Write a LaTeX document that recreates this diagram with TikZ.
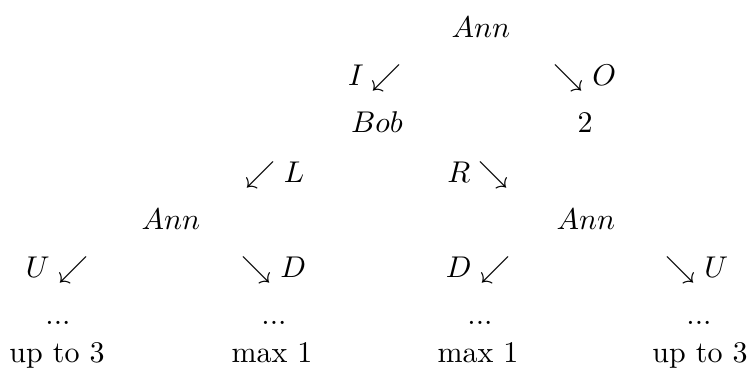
\documentclass[tikz,border=0pt]{standalone}
\usepackage{amsmath}
\begin{document}
\begin{tikzpicture}[x=0.3333pt,y=-0.3333pt,
  lbl/.style={anchor=base,inner sep=0pt,font=\fontsize{10}{12}\selectfont}]
\useasboundingbox (0,0) rectangle (749,377);
% row 1
\node[lbl] (ann1) at (481,38) {$Ann$};
% row 2
\node[lbl] (aI) at (375,86) {$I\swarrow$};
\node[lbl] (aO) at (585,86) {$\searrow O$};
% row 3
\node[lbl] (bob) at (377,133) {$Bob$};
\node[lbl] (two) at (585,133) {$2$};
% row 4
\node[lbl] (aL) at (275,183) {$\swarrow L$};
\node[lbl] (aR) at (478,183) {$R\searrow$};
% row 5
\node[lbl] (ann2) at (171,230) {$Ann$};
\node[lbl] (ann3) at (586,230) {$Ann$};
% row 6
\node[lbl] (aU1) at (57,278) {$U\swarrow$};
\node[lbl] (aD1) at (274,278) {$\searrow D$};
\node[lbl] (aD2) at (478,278) {$D\swarrow$};
\node[lbl] (aU2) at (697,278) {$\searrow U$};
% row 7
\node[lbl] (d1) at (58,325) {...};
\node[lbl] (d2) at (274,325) {...};
\node[lbl] (d3) at (480,325) {...};
\node[lbl] (d4) at (699,325) {...};
% row 8
\node[lbl] (t1) at (57,363) {up to 3};
\node[lbl] (t2) at (272,363) {max 1};
\node[lbl] (t3) at (478,363) {max 1};
\node[lbl] (t4) at (700,363) {up to 3};
\end{tikzpicture}
\end{document}
